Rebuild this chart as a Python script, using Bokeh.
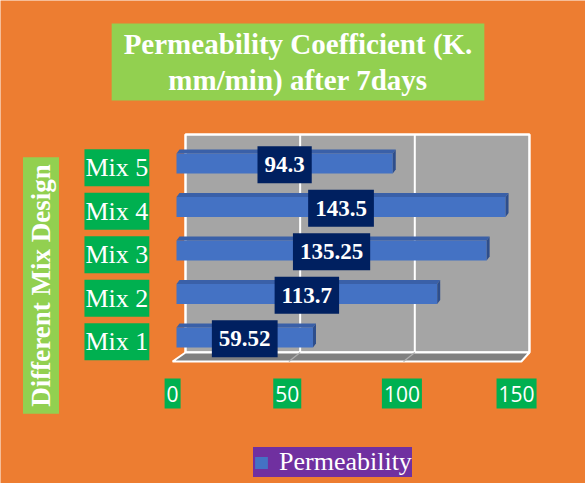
import numpy as np
from bokeh.plotting import figure
from bokeh.models import Range1d, Label, Legend, LegendItem
from bokeh.core.properties import value
from bokeh.embed import file_html
from bokeh.resources import INLINE

# ---- data ----
categories = ["Mix 1", "Mix 2", "Mix 3", "Mix 4", "Mix 5"]
permeability = [59.52, 113.7, 135.25, 143.5, 94.3]
value_labels = ["59.52", "113.7", "135.25", "143.5", "94.3"]
x_ticks = [0, 50, 100, 150]
x_tick_labels = ["0", "50", "100", "150"]
title_text = "Permeability Coefficient (K.\nmm/min) after 7days"
y_title = "Different Mix Design"
series_name = "Permeability"

# ---- style / layout ----
ORANGE = "#ED7D31"
W, H = 585, 483
KX = 2.293   # px per x unit
KY = 43.5    # px per category step
X0 = 176     # px (from left) of x = 0
Y1 = 337     # px (from top) of category 1

p = figure(width=W, height=H,
           x_range=Range1d(-X0 / KX, (W - X0) / KX),
           y_range=Range1d(1 - (H - Y1) / KY, 1 + Y1 / KY),
           x_axis_type=None, y_axis_type=None,
           output_backend="svg", toolbar_location=None, min_border=0,
           background_fill_color=ORANGE, border_fill_color=ORANGE,
           outline_line_color=None)
p.grid.visible = False

idx = np.arange(1, len(categories) + 1)
vals = np.array(permeability)
n = len(categories)

# 3D box geometry (offsets in px converted to data units)
DX = 9 / KX
wall_top = n + 0.667
wall_bot = 1 - 0.345
floor_front = 1 - 24 / KY
xmin, xmax = x_ticks[0], x_ticks[-1]

# back wall
p.quad(left=xmin + DX, right=xmax + DX, bottom=wall_bot, top=wall_top,
       fill_color="#A5A5A5", line_color="white", line_width=2.5)
p.segment(x0=[t + DX for t in x_ticks[1:-1]], y0=wall_bot,
          x1=[t + DX for t in x_ticks[1:-1]], y1=wall_top,
          line_color="white", line_width=2)
# floor
p.patch(x=[xmin - 1.7, xmax + 0.4, xmax + DX, xmin + DX],
        y=[floor_front, floor_front, wall_bot, wall_bot],
        fill_color="#808080", line_color="white", line_width=2)
p.segment(x0=[t + DX for t in x_ticks[1:-1]], y0=wall_bot,
          x1=[t - 1.0 for t in x_ticks[1:-1]], y1=floor_front,
          line_color="#B0B0B0", line_width=1.2)

# bars
BH = 20 / KY
TX = 3 / KX
TY = 4 / KY
bars = p.hbar(y=idx, left=0, right=vals, height=BH,
              fill_color="#4472C4", line_color=None)
top_xs = [[0, v, v + TX, TX] for v in vals]
top_ys = [[i + BH / 2, i + BH / 2, i + BH / 2 + TY, i + BH / 2 + TY] for i in idx]
p.patches(xs=top_xs, ys=top_ys, fill_color="#3A60A8", line_color=None)
side_xs = [[v, v + TX, v + TX, v] for v in vals]
side_ys = [[i - BH / 2, i - BH / 2 + TY, i + BH / 2 + TY, i + BH / 2] for i in idx]
p.patches(xs=side_xs, ys=side_ys, fill_color="#2E4E8C", line_color=None)

# value labels
p.text(x=vals / 2, y=idx - 0.03, text=value_labels,
       text_align="center", text_baseline="middle",
       text_font=value("Liberation Serif"), text_font_style="bold",
       text_font_size="23px", text_color="white",
       background_fill_color="#002060",
       padding=dict(left=7, right=7, top=11, bottom=11))

# category labels
p.text(x=-26, y=idx - 0.1, text=categories,
       text_align="center", text_baseline="middle",
       text_font=value("Liberation Serif"), text_font_size="26px",
       text_color="white", background_fill_color="#00B050",
       padding=dict(left=1, right=1, top=4, bottom=4))

# x tick labels
p.text(x=np.array(x_ticks) - 1.7, y=1 - 56 / KY, text=x_tick_labels,
       text_align="center", text_baseline="middle",
       text_font=value("Open Sans"), text_font_size="21px",
       text_color="white", background_fill_color="#00B050",
       padding=dict(left=2, right=2, top=7, bottom=7))

# title
p.add_layout(Label(x=297.5, y=421.5, x_units="screen", y_units="screen",
                   text=title_text, text_align="center", text_baseline="middle",
                   text_font="Liberation Serif", text_font_style="bold",
                   text_font_size="29px", text_color="white", text_line_height=1.15,
                   background_fill_color="#92D050",
                   padding=dict(left=12, right=12, top=4, bottom=4)))

# y axis title
p.add_layout(Label(x=40.5, y=198, x_units="screen", y_units="screen",
                   text=y_title, angle=np.pi / 2,
                   text_align="center", text_baseline="middle",
                   text_font="Liberation Serif", text_font_style="bold",
                   text_font_size="27px", text_color="white",
                   background_fill_color="#92D050",
                   padding=dict(left=7, right=7, top=3, bottom=3)))

legend = Legend(items=[LegendItem(label=series_name, renderers=[bars])],
                location=(253, 6), background_fill_color="#7030A0",
                background_fill_alpha=1, border_line_color=None,
                label_text_color="white", label_text_font="Liberation Serif",
                label_text_font_size="26px", glyph_width=16, glyph_height=15,
                padding=10, margin=0, label_standoff=10)
p.add_layout(legend)

html = file_html(p, INLINE)
html = html.replace("<body>", '<body style="background-color:#ED7D31;">', 1)
open("out.html", "w").write(html)
